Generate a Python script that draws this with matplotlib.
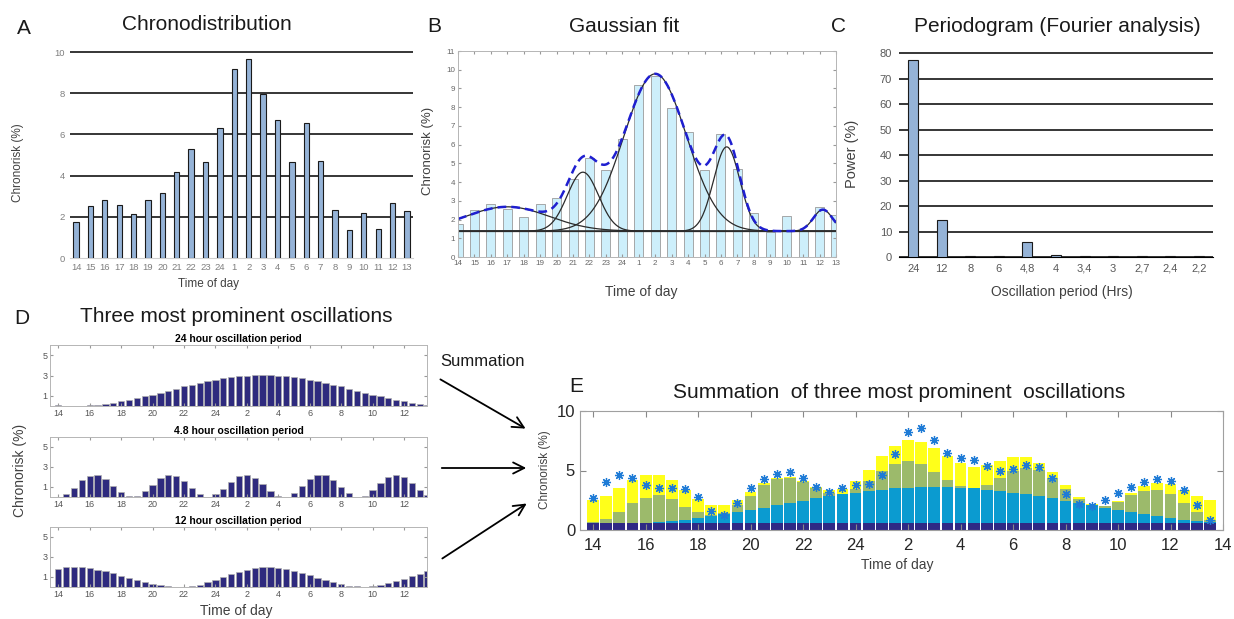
import matplotlib
matplotlib.use("Agg")
import matplotlib.pyplot as plt
import numpy as np

plt.rcParams['font.family'] = ['Liberation Sans', 'DejaVu Sans']

W, H = 1234, 619

# ---- data ----
hours_a = ["14", "15", "16", "17", "18", "19", "20", "21", "22", "23", "24",
	"1", "2", "3", "4", "5", "6", "7", "8", "9", "10", "11", "12", "13"]
chrono = [1.77, 2.52, 2.81, 2.58, 2.15, 2.81, 3.15, 4.17, 5.31, 4.67, 6.32,
	9.18, 9.65, 7.96, 6.68, 4.67, 6.56, 4.70, 2.34, 1.36, 2.18, 1.43, 2.66, 2.26]

periods = ["24", "12", "8", "6", "4,8", "4", "3,4", "3", "2,7", "2,4", "2,2"]
power = [77.2, 14.7, 0.5, 0.25, 5.7, 0.9, 0.5, 0.2, 0.2, 0.2, 0.2]

# gaussian fit parameters (position in hour slots from 14h)
gauss_base = 1.38
gauss_center = [3.0, 7.6, 12.0, 16.35, 22.2]
gauss_amp = [1.3, 3.15, 8.4, 4.5, 1.15]
gauss_sd = [2.55, 0.95, 1.9, 0.8, 0.58]

# half-hour components, 14:00 ... 13:30
osc24 = [0.05, 0.01, 0.0, 0.01, 0.05, 0.12, 0.2, 0.32, 0.45, 0.6,
	0.76, 0.94, 1.13, 1.32, 1.52, 1.72, 1.92, 2.11, 2.29, 2.45,
	2.6, 2.73, 2.84, 2.94, 3.0, 3.04, 3.05, 3.04, 3.0, 2.94,
	2.84, 2.73, 2.6, 2.45, 2.29, 2.11, 1.92, 1.72, 1.52, 1.32,
	1.13, 0.94, 0.76, 0.6, 0.45, 0.32, 0.2, 0.12]
osc48 = [0.05, 0.33, 0.93, 1.67, 2.1, 2.23, 1.83, 1.1, 0.5, 0.07,
	0.1, 0.57, 1.2, 1.9, 2.23, 2.13, 1.6, 0.87, 0.27, 0.0,
	0.27, 0.8, 1.53, 2.07, 2.23, 1.93, 1.3, 0.63, 0.13, 0.03,
	0.4, 1.1, 1.8, 2.2, 2.17, 1.7, 1.0, 0.37, 0.03, 0.13,
	0.67, 1.43, 2.0, 2.23, 2.03, 1.4, 0.73, 0.2]
osc12 = [1.85, 1.98, 2.02, 1.98, 1.88, 1.75, 1.58, 1.37, 1.13, 0.86,
	0.66, 0.46, 0.29, 0.19, 0.08, 0.02, 0.02, 0.12, 0.25, 0.46,
	0.73, 0.97, 1.3, 1.5, 1.75, 1.88, 2.02, 2.02, 1.92, 1.81,
	1.64, 1.41, 1.17, 0.9, 0.66, 0.49, 0.29, 0.15, 0.08, 0.02,
	0.08, 0.19, 0.36, 0.59, 0.83, 1.1, 1.34, 1.61]
e_floor = 0.55
observed = [2.7, 4.0, 4.65, 4.35, 3.8, 3.53, 3.53, 3.47, 2.74, 1.6,
	1.27, 2.23, 3.5, 4.29, 4.7, 4.88, 4.4, 3.58, 3.16, 3.53,
	3.8, 3.9, 4.65, 6.39, 8.24, 8.57, 7.59, 6.5, 6.08, 5.88,
	5.41, 4.96, 5.13, 5.43, 5.29, 4.4, 3.03, 2.18, 2.04, 2.49,
	3.08, 3.61, 4.06, 4.29, 4.12, 3.33, 2.13, 0.81]

d_labels = ["14", "16", "18", "20", "22", "24", "2", "4", "6", "8", "10", "12"]
e_labels = d_labels + ["14"]


def px_axes(fig, left, top, right, bottom):
	return fig.add_axes([left / W, 1 - bottom / H, (right - left) / W, (bottom - top) / H])


def label(fig, x, y, s, **kw):
	fig.text(x / W, 1 - y / H, s, ha="center", va="center", **kw)


fig = plt.figure(figsize=(W / 100, H / 100), dpi=100)

# ---- A ----
ax = px_axes(fig, 70, 51, 413, 258)
xa = np.arange(len(hours_a))
ax.bar(xa, chrono, width=0.37, color="#95B3D7", edgecolor="#1a1a1a", linewidth=0.8, zorder=3)
ax.set_xlim(-0.42, 23.42)
ax.set_ylim(0, 10.05)
ax.set_yticks([0, 2, 4, 6, 8, 10])
ax.set_xticks(xa, hours_a)
ax.yaxis.grid(True, color="black", lw=1.1)
ax.get_ygridlines()[0].set_visible(False)
ax.set_axisbelow(True)
for s in ["left", "right", "top"]:
	ax.spines[s].set_visible(False)
ax.spines["bottom"].set_color("#d0d0d0")
ax.tick_params(length=0, labelsize=6.8, labelcolor="#7f7f7f")

# ---- B ----
ax = px_axes(fig, 458, 51, 836, 257)
ax.bar(xa, chrono, width=0.55, color="#CDEFFB", edgecolor="#9a9a9a", linewidth=0.6)
xx = np.linspace(0, 23, 600)
comps = [a * np.exp(-(xx - c) ** 2 / (2 * sd ** 2))
	for c, a, sd in zip(gauss_center, gauss_amp, gauss_sd)]
ax.axhline(gauss_base, color="#2b2b2b", lw=0.9)
for g in comps:
	ax.plot(xx, gauss_base + g, color="#2b2b2b", lw=0.9)
ax.plot(xx, gauss_base + np.sum(comps, axis=0), color="#1f1fd0", lw=1.8, ls=(0, (3.5, 2)))
ax.set_xlim(0, 23)
ax.set_ylim(0, 11)
ax.set_xticks(xa, hours_a)
ax.set_yticks(range(12))
ax.tick_params(direction="in", length=2, top=True, right=True, labelsize=5.8,
	labelcolor="#666666", color="#999999", pad=2)
for s in ax.spines.values():
	s.set_color("#b5b5b5")
	s.set_linewidth(0.7)

# ---- C ----
ax = px_axes(fig, 899, 52, 1213, 257)
xc = np.arange(len(periods))
ax.bar(xc, power, width=0.35, color="#95B3D7", edgecolor="#1a1a1a", linewidth=0.8, zorder=3)
ax.set_xlim(-0.5, 10.5)
ax.set_ylim(0, 80.4)
ax.set_yticks(range(0, 81, 10))
ax.set_xticks(xc, periods)
ax.yaxis.grid(True, color="black", lw=1.1)
ax.set_axisbelow(True)
for s in ["left", "right", "top"]:
	ax.spines[s].set_visible(False)
ax.spines["bottom"].set_color("black")
ax.tick_params(length=0, labelsize=8, labelcolor="#595959", pad=5)

# ---- D ----
t_half = np.arange(48) * 0.5
d_panels = [
	(345, 406, "24 hour oscillation period", osc24),
	(437, 497, "4.8 hour oscillation period", osc48),
	(527, 587, "12 hour oscillation period", osc12),
]
for top, bottom, title, vals in d_panels:
	ax = px_axes(fig, 50, top, 427, bottom)
	ax.bar(t_half, vals, width=0.4, color="#2E2A7E", edgecolor="#b0b0b0", linewidth=0.5)
	ax.set_xlim(-0.53, 23.46)
	ax.set_ylim(0, 6)
	ax.set_yticks([1, 3, 5])
	ax.set_xticks(range(0, 24, 2), d_labels)
	ax.tick_params(direction="in", length=2.5, top=True, right=True, labelsize=6.5,
		labelcolor="#555555", color="#999999", pad=2)
	for s in ax.spines.values():
		s.set_color("#b5b5b5")
		s.set_linewidth(0.7)
	ax.set_title(title, fontsize=7.5, fontweight="bold", pad=2)

# ---- E ----
ax = px_axes(fig, 580, 411, 1223, 530)
floor = np.full(48, e_floor)
b1 = floor + np.array(osc24)
b2 = b1 + np.array(osc48)
ax.bar(t_half, floor, width=0.45, color="#2F2A85", edgecolor="none")
ax.bar(t_half, osc24, bottom=floor, width=0.45, color="#0B9BD0", edgecolor="none")
ax.bar(t_half, osc48, bottom=b1, width=0.45, color="#9CBA6B", edgecolor="none")
ax.bar(t_half, osc12, bottom=b2, width=0.45, color="#FFFF1A", edgecolor="none")
ax.plot(t_half, observed, ls="none", marker=(8, 2, 0), markersize=6.5,
	markeredgewidth=0.9, color="#1E7BD6")
ax.set_xlim(-0.5, 24)
ax.set_ylim(0, 10)
ax.set_yticks([0, 5, 10])
ax.set_xticks(range(0, 25, 2), e_labels)
ax.tick_params(direction="in", length=4, top=True, right=True, labelsize=12,
	labelcolor="#262626", color="#888888")
ax.tick_params(axis="x", pad=6)
for s in ax.spines.values():
	s.set_color("#a0a0a0")
	s.set_linewidth(0.8)

# arrows
for (x0, y0), (x1, y1) in [((438, 378), (528, 430)), ((439, 468), (529, 468)), ((440, 560), (529, 502))]:
	ax.annotate("", xy=(x1 / W, 1 - y1 / H), xytext=(x0 / W, 1 - y0 / H),
		xycoords="figure fraction", textcoords="figure fraction",
		arrowprops=dict(arrowstyle="->", lw=1.3, color="black", mutation_scale=20),
		annotation_clip=False)

# ---- texts ----
big = dict(fontsize=15, color="#1a1a1a")
label(fig, 24, 28, "A", **big)
label(fig, 207, 25, "Chronodistribution", **big)
label(fig, 434, 27, "B", **big)
label(fig, 624, 27, "Gaussian fit", **big)
label(fig, 838, 27, "C", **big)
label(fig, 1057, 27, "Periodogram (Fourier analysis)", **big)
label(fig, 22, 318, "D", **big)
label(fig, 236, 316, "Three most prominent oscillations", **big)
label(fig, 576, 386, "E", **big)
label(fig, 899, 393, "Summation  of three most prominent  oscillations", **big)
label(fig, 483, 362, "Summation", fontsize=12, color="#1a1a1a")

lab = dict(color="#404040")
label(fig, 18, 163, "Chronorisk (%)", rotation=90, fontsize=8.5, **lab)
label(fig, 208, 284, "Time of day", fontsize=8.5, **lab)
label(fig, 428, 151, "Chronorisk (%)", rotation=90, fontsize=9.5, **lab)
label(fig, 641, 292, "Time of day", fontsize=10, **lab)
label(fig, 852, 154, "Power (%)", rotation=90, fontsize=10.5, **lab)
label(fig, 1062, 292, "Oscillation period (Hrs)", fontsize=10, **lab)
label(fig, 20, 470, "Chronorisk (%)", rotation=90, fontsize=10, **lab)
label(fig, 236, 611, "Time of day", fontsize=10, **lab)
label(fig, 545, 470, "Chronorisk (%)", rotation=90, fontsize=8.5, **lab)
label(fig, 897, 565, "Time of day", fontsize=10, **lab)

fig.savefig("out.png", dpi=100)
